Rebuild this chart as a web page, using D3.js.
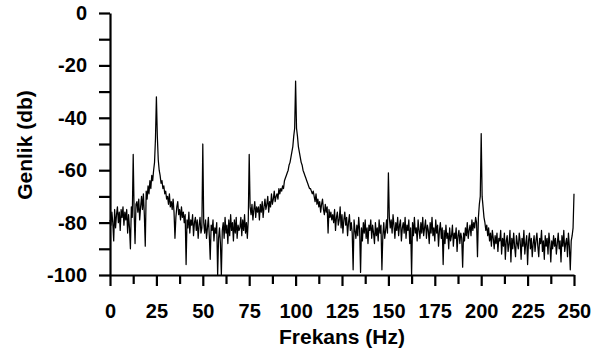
<!DOCTYPE html>
<html>
<head>
<meta charset="utf-8">
<script src="https://cdn.jsdelivr.net/npm/d3@7"></script>
<style>
  body { margin: 0; background: #fff; }
  svg { display: block; font-family: "Liberation Sans", Arial, sans-serif; }
</style>
</head>
<body>
<div id="chart"></div>
<script>
const freqStep = 0.5;
const amplitudeDb = [
  -79, -81, -76, -80, -87, -75, -82, -77, -74, -80, -76, -83, -75, -78, -74, -81, -76, -79, -75, -84,
  -77, -82, -90, -74, -78, -54, -76, -88, -73, -72, -76, -71, -79, -74, -70, -75, -69, -77, -89, -68,
  -71, -66, -69, -64, -67, -62, -64, -60, -57, -48, -32, -47, -56, -60, -62, -65, -64, -67, -66, -69,
  -68, -71, -70, -73, -69, -74, -72, -75, -71, -76, -86, -78, -74, -72, -77, -75, -79, -74, -78, -76,
  -80, -77, -96, -79, -82, -76, -84, -79, -81, -77, -85, -80, -78, -83, -79, -86, -81, -78, -84, -82,
  -50, -80, -84, -79, -86, -82, -78, -85, -94, -81, -83, -79, -87, -82, -84, -80, -100, -86, -82, -88,
  -100, -83, -80, -86, -78, -84, -81, -88, -79, -85, -77, -83, -80, -87, -79, -84, -78, -86, -81, -83,
  -82, -78, -85, -79, -83, -77, -84, -80, -86, -79, -54, -74, -77, -73, -79, -75, -72, -78, -74, -76,
  -74, -79, -73, -76, -72, -78, -74, -71, -75, -73, -70, -76, -72, -74, -69, -73, -71, -68, -72, -70,
  -69, -71, -67, -69, -67, -68, -66, -67, -64, -63, -62, -61, -60, -58, -57, -55, -53, -51, -47, -44,
  -26, -44, -47, -51, -53, -55, -57, -58, -60, -61, -62, -63, -64, -65, -66, -67, -67, -68, -69, -68,
  -70, -72, -69, -73, -71, -74, -72, -76, -73, -71, -75, -77, -73, -76, -74, -84, -75, -78, -76, -79,
  -77, -80, -75, -83, -78, -76, -81, -79, -74, -82, -77, -84, -79, -76, -81, -78, -85, -80, -77, -83,
  -80, -84, -98, -79, -83, -86, -81, -85, -78, -83, -99, -82, -87, -80, -84, -79, -86, -82, -88, -81,
  -83, -79, -86, -81, -84, -88, -80, -85, -82, -87, -79, -84, -81, -98, -85, -80, -86, -83, -79, -84,
  -61, -78, -82, -79, -84, -77, -81, -86, -80, -83, -78, -85, -81, -79, -87, -82, -80, -84, -78, -86,
  -81, -83, -79, -88, -82, -100, -80, -85, -78, -84, -82, -87, -79, -83, -86, -80, -84, -78, -85, -82,
  -79, -86, -81, -83, -88, -80, -84, -78, -85, -82, -87, -79, -84, -81, -89, -83, -80, -86, -82, -96,
  -83, -88, -81, -86, -84, -90, -82, -87, -85, -81, -89, -84, -86, -82, -91, -85, -83, -88, -84, -86,
  -97, -84, -87, -82, -85, -80, -86, -83, -81, -85, -79, -83, -80, -82, -78, -80, -93, -78, -73, -70,
  -46, -70, -74, -78, -80, -83, -81, -85, -82, -87, -84, -89, -83, -86, -90, -85, -88, -84, -91, -86,
  -87, -83, -92, -86, -89, -84, -94, -87, -85, -91, -88, -83, -95, -86, -90, -84, -89, -93, -85, -88,
  -90, -84, -87, -94, -86, -89, -83, -92, -88, -85, -96, -87, -84, -90, -86, -93, -88, -85, -91, -87,
  -84, -89, -93, -86, -88, -83, -91, -87, -94, -85, -89, -86, -92, -84, -88, -95, -87, -90, -85, -89,
  -86, -92, -88, -84, -90, -87, -95, -85, -89, -83, -91, -88, -86, -93, -84, -89, -98, -87, -85, -82,
  -69
];

const xTicks = [0, 25, 50, 75, 100, 125, 150, 175, 200, 225, 250];
const xMinorTicks = [12.5, 37.5, 62.5, 87.5, 112.5, 137.5, 162.5, 187.5, 212.5, 237.5];
const yTicks = [0, -20, -40, -60, -80, -100];
const yMinorTicks = [-10, -30, -50, -70, -90];

const W = 603, H = 356;
const plot = { left: 110, right: 574, top: 13, bottom: 275 };

const svg = d3.select("#chart").append("svg")
  .attr("width", W)
  .attr("height", H);

const x = d3.scaleLinear().domain([0, 250]).range([plot.left, plot.right]);
const y = d3.scaleLinear().domain([-100, 0]).range([plot.bottom, plot.top]);

const points = amplitudeDb.map((v, i) => ({ f: i * freqStep, db: v }));

// spectrum line
svg.append("path")
  .datum(points)
  .attr("fill", "none")
  .attr("stroke", "#000")
  .attr("stroke-width", 1.25)
  .attr("stroke-linejoin", "round")
  .attr("d", d3.line().x(d => x(d.f)).y(d => y(d.db)));

// minor ticks first (no labels)
svg.append("g")
  .attr("transform", `translate(0,${plot.bottom})`)
  .call(d3.axisBottom(x).tickValues(xMinorTicks).tickSize(9).tickFormat(""))
  .call(g => g.select(".domain").remove());

svg.append("g")
  .attr("transform", `translate(${plot.left},0)`)
  .call(d3.axisLeft(y).tickValues(yMinorTicks).tickSize(11).tickFormat(""))
  .call(g => g.select(".domain").remove());

// Axes (plain hyphen for negative numbers, like the original)
const xAxis = svg.append("g")
  .attr("transform", `translate(0,${plot.bottom})`)
  .call(d3.axisBottom(x).tickValues(xTicks).tickSize(11).tickSizeOuter(0).tickPadding(18)
    .tickFormat(d => String(d)));

const yAxis = svg.append("g")
  .attr("transform", `translate(${plot.left},0)`)
  .call(d3.axisLeft(y).tickValues(yTicks).tickSize(11).tickSizeOuter(0).tickPadding(12)
    .tickFormat(d => String(d)));

svg.selectAll(".tick line").attr("stroke", "#000").attr("stroke-width", 2.2);
svg.selectAll(".domain").attr("stroke", "#000").attr("stroke-width", 2.2);

[xAxis, yAxis].forEach(g => g.selectAll("text")
  .style("font-family", "'Liberation Sans', Arial, sans-serif")
  .style("font-size", "20px")
  .style("font-weight", "bold")
  .attr("fill", "#000"));

// X-axis Label
svg.append("text")
  .attr("text-anchor", "middle")
  .attr("x", (plot.left + plot.right) / 2)
  .attr("y", 344)
  .style("font-size", "21px")
  .style("font-weight", "bold")
  .text("Frekans (Hz)");

// Y-axis Label
svg.append("text")
  .attr("text-anchor", "middle")
  .attr("transform", "rotate(-90)")
  .attr("x", -145)
  .attr("y", 32)
  .style("font-size", "21px")
  .style("font-weight", "bold")
  .text("Genlik (db)");
</script>
</body>
</html>
